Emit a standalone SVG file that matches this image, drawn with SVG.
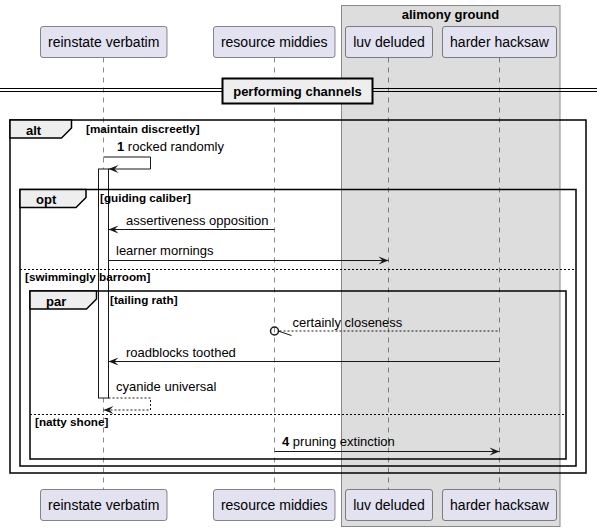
<svg xmlns="http://www.w3.org/2000/svg" width="602" height="531" viewBox="0 0 602 531">
<style>
text{font-family:"Liberation Sans",Arial,sans-serif;fill:#000}
.pbox{fill:#E2E2F0;stroke:#181818;stroke-width:0.5}
.pt{font-size:14px;text-anchor:middle}
.life{stroke:#181818;stroke-width:0.5;stroke-dasharray:5,5;fill:none}
.frame{fill:none;stroke:#000;stroke-width:1.5}
.tab{fill:#EEEEEE;stroke:#000;stroke-width:1.5}
.tl{font-size:13px;font-weight:bold}
.cond{font-size:11.7px;font-weight:bold}
.sep{stroke:#000;stroke-width:1;stroke-dasharray:2,2;fill:none}
.msg{stroke:#181818;stroke-width:1;fill:none}
.dash{stroke-dasharray:2,2}
.mt{font-size:13px}
.num{font-weight:bold}
</style>
<defs>
<marker id="ah" viewBox="-11 -5 12 10" refX="0" refY="0" markerWidth="12" markerHeight="10" markerUnits="userSpaceOnUse" orient="auto">
<path d="M0,0 L-10,-4 L-6,0 L-10,4 Z" fill="#181818"/>
</marker>
</defs>

<g id="group-alimony-ground">
<rect x="341.5" y="5.5" width="218.5" height="521" fill="#DDDDDD" stroke="#888888" stroke-width="1"/>
<text x="450.5" y="19" class="tl" text-anchor="middle">alimony ground</text>
</g>

<g id="lifelines">
<line class="life" x1="103.5" y1="57.5" x2="103.5" y2="489.5"/>
<line class="life" x1="274.5" y1="57.5" x2="274.5" y2="489.5"/>
<line class="life" x1="388.5" y1="57.5" x2="388.5" y2="489.5"/>
<line class="life" x1="499.5" y1="57.5" x2="499.5" y2="489.5"/>
</g>

<g id="activation">
<rect x="98.5" y="169" width="10" height="229" fill="#FFFFFF" stroke="#181818" stroke-width="1"/>
</g>

<g id="divider">
<line x1="0" y1="88.5" x2="597" y2="88.5" stroke="#000" stroke-width="1"/>
<line x1="0" y1="91.5" x2="597" y2="91.5" stroke="#000" stroke-width="1"/>
<rect x="222.5" y="78.5" width="150" height="25" fill="#EEEEEE" stroke="#000" stroke-width="2"/>
<text x="297.5" y="96" class="tl" text-anchor="middle">performing channels</text>
</g>

<g id="frame-alt">
<rect class="frame" x="10" y="120" width="576" height="353"/>
<polygon class="tab" points="10,120 71.5,120 71.5,128 61.5,138 10,138"/>
<text x="26" y="134.5" class="tl">alt</text>
<text x="86" y="133" class="cond">[maintain discreetly]</text>
</g>

<g id="frame-opt">
<rect class="frame" x="20" y="189.5" width="556" height="276.5"/>
<polygon class="tab" points="20,189.5 86,189.5 86,197.5 76,207.5 20,207.5"/>
<text x="36" y="204" class="tl">opt</text>
<text x="100" y="202" class="cond">[guiding caliber]</text>
<line class="sep" x1="20" y1="269.5" x2="576" y2="269.5"/>
<text x="25" y="280.5" class="cond">[swimmingly barroom]</text>
</g>

<g id="frame-par">
<rect class="frame" x="30" y="291" width="536" height="168"/>
<polygon class="tab" points="30,291 96.5,291 96.5,299 86.5,309 30,309"/>
<text x="46" y="305.5" class="tl">par</text>
<text x="110" y="304" class="cond">[tailing rath]</text>
<line class="sep" x1="30" y1="414.5" x2="566" y2="414.5"/>
<text x="35" y="426" class="cond">[natty shone]</text>
</g>

<g id="connectors">
<path class="msg" d="M103.5,157 H150.5 V169 H108.5" marker-end="url(#ah)"/>
<text x="117" y="151" class="mt"><tspan class="num">1</tspan> rocked randomly</text>

<line class="msg" x1="274.5" y1="229.5" x2="108.5" y2="229.5" marker-end="url(#ah)"/>
<text x="126" y="224.5" class="mt">assertiveness opposition</text>

<line class="msg" x1="108.5" y1="260.5" x2="388.5" y2="260.5" marker-end="url(#ah)"/>
<text x="116" y="255" class="mt">learner mornings</text>

<line class="msg dash" x1="497.5" y1="331" x2="279" y2="331"/>
<line class="msg" x1="278" y1="331" x2="291.5" y2="335.5"/>
<circle cx="274.5" cy="331" r="4" fill="none" stroke="#181818" stroke-width="1.5"/>
<text x="292.5" y="327" class="mt">certainly closeness</text>

<line class="msg" x1="499.5" y1="361.5" x2="108.5" y2="361.5" marker-end="url(#ah)"/>
<text x="126" y="357" class="mt">roadblocks toothed</text>

<path class="msg dash" d="M108.5,398 H150.5 V410 H103.5" marker-end="url(#ah)"/>
<text x="116" y="391" class="mt">cyanide universal</text>

<line class="msg" x1="274.5" y1="451.5" x2="499.5" y2="451.5" marker-end="url(#ah)"/>
<text x="282" y="446" class="mt"><tspan class="num">4</tspan> pruning extinction</text>
</g>

<g id="p-reinstate-verbatim">
<rect class="pbox" x="40.5" y="26.5" width="126.5" height="31" rx="2.5"/>
<text class="pt" x="103.7" y="47">reinstate verbatim</text>
<rect class="pbox" x="40.5" y="489.5" width="126.5" height="31" rx="2.5"/>
<text class="pt" x="103.7" y="510">reinstate verbatim</text>
</g>
<g id="p-resource-middies">
<rect class="pbox" x="213.5" y="26.5" width="121.5" height="31" rx="2.5"/>
<text class="pt" x="274.2" y="47">resource middies</text>
<rect class="pbox" x="213.5" y="489.5" width="121.5" height="31" rx="2.5"/>
<text class="pt" x="274.2" y="510">resource middies</text>
</g>
<g id="p-luv-deluded">
<rect class="pbox" x="345.5" y="26.5" width="87" height="31" rx="2.5"/>
<text class="pt" x="389" y="47">luv deluded</text>
<rect class="pbox" x="345.5" y="489.5" width="87" height="31" rx="2.5"/>
<text class="pt" x="389" y="510">luv deluded</text>
</g>
<g id="p-harder-hacksaw">
<rect class="pbox" x="442.5" y="26.5" width="114" height="31" rx="2.5"/>
<text class="pt" x="499.5" y="47">harder hacksaw</text>
<rect class="pbox" x="442.5" y="489.5" width="114" height="31" rx="2.5"/>
<text class="pt" x="499.5" y="510">harder hacksaw</text>
</g>
</svg>
